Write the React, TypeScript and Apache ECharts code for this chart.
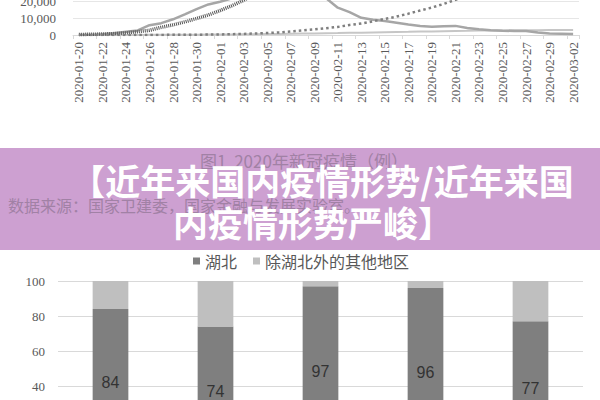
import React, { useEffect, useRef } from "react";
import * as echarts from "echarts";

// ---- top line chart (2020 epidemic, cases) ----
const dates = [
  "2020-01-20", "2020-01-21", "2020-01-22", "2020-01-23", "2020-01-24", "2020-01-25", "2020-01-26",
  "2020-01-27", "2020-01-28", "2020-01-29", "2020-01-30", "2020-01-31", "2020-02-01", "2020-02-02",
  "2020-02-03", "2020-02-04", "2020-02-05", "2020-02-06", "2020-02-07", "2020-02-08", "2020-02-09",
  "2020-02-10", "2020-02-11", "2020-02-12", "2020-02-13", "2020-02-14", "2020-02-15", "2020-02-16",
  "2020-02-17", "2020-02-18", "2020-02-19", "2020-02-20", "2020-02-21", "2020-02-22", "2020-02-23",
  "2020-02-24", "2020-02-25", "2020-02-26", "2020-02-27", "2020-02-28", "2020-02-29", "2020-03-01",
  "2020-03-02",
];

const suspected = [
  0, 0, 393, 1072, 1965, 2684, 5794, 6973, 9239, 12167, 15238, 17988, 19544, 21558, 23214, 23260,
  24702, 26359, 27657, 28942, 23589, 21675, 16067, 13435, 10109, 8969, 8228, 7264, 6242, 5248, 4922,
  5206, 5365, 4148, 3434, 2824, 2491, 2358, 2308, 1418, 851, 715, 587,
];

const confirmed = [
  291, 440, 571, 830, 1287, 1975, 2744, 4515, 5974, 7711, 9692, 11791, 14380, 17205, 20438, 24324,
  28018, 31161, 34546, 37198, 40171, 42638, 44653, 59804, 63851, 66492, 68500, 70548, 72436, 74185,
  74576, 75465, 76288, 76936, 77150, 77658, 78064, 78497, 78824, 79251, 79824, 80026, 80151,
];

const cured = [
  25, 25, 28, 34, 38, 49, 51, 60, 103, 124, 171, 243, 328, 475, 632, 892, 1153, 1540, 2050, 2649,
  3281, 3996, 4740, 5911, 6723, 8096, 9419, 10844, 12552, 14376, 16155, 18264, 20659, 22888, 24734,
  27323, 29745, 32495, 36117, 39002, 41625, 44462, 47204,
];

const deaths = [
  6, 9, 17, 25, 41, 56, 80, 106, 132, 170, 213, 259, 304, 361, 425, 490, 563, 636, 722, 811, 908,
  1016, 1113, 1367, 1380, 1523, 1665, 1770, 1868, 2004, 2118, 2236, 2345, 2442, 2592, 2663, 2715,
  2744, 2788, 2835, 2870, 2912, 2943,
];

// ---- bottom stacked bar chart (share, %) ----
const barCategories = ["累计确诊", "现有确诊", "累计死亡", "现有重症", "现有疑似"];
const hubeiShare = [84, 74, 97, 96, 77];
const otherShare = [16, 26, 3, 4, 23];
const barSeriesNames = ["湖北", "除湖北外的其他地区"];

// ---- texts ----
const chartCaption = "图1  2020年新冠疫情（例）";
const sourceNote = "数据来源：国家卫建委，国家金融与发展实验室。";
const titleLine1 = "【近年来国内疫情形势/近年来国";
const titleLine2 = "内疫情形势严峻】";

const SERIF = '"Liberation Serif", "DejaVu Serif", serif';
const CJK = '"Noto Sans CJK SC", sans-serif';

export default function App() {
  const ref = useRef<HTMLDivElement>(null);

  useEffect(() => {
    if (!ref.current) return;
    const chart = echarts.init(ref.current, null, { renderer: "svg" });

    const option: any = {
      animation: false,
      backgroundColor: "#ffffff",
      legend: {
        data: barSeriesNames,
        left: 188,
        top: 248,
        icon: "rect",
        itemWidth: 7,
        itemHeight: 7,
        itemGap: 16,
        textStyle: { fontFamily: CJK, fontSize: 16, color: "#595959" },
      },
      grid: [
        { left: 73, right: 21, top: -118, height: 153, outerBoundsMode: "none", containLabel: false },
        { left: 58, right: 17, top: 281, height: 175, outerBoundsMode: "none", containLabel: false },
      ],
      xAxis: [
        {
          type: "category",
          gridIndex: 0,
          data: dates,
          boundaryGap: true,
          axisLine: { lineStyle: { color: "#d9d9d9", width: 1 } },
          axisTick: { show: true, interval: 1, length: 4, lineStyle: { color: "#d9d9d9" } },
          axisLabel: {
            interval: 1,
            rotate: 90,
            margin: 7,
            fontFamily: SERIF,
            fontSize: 13,
            color: "#595959",
          },
        },
        {
          type: "category",
          gridIndex: 1,
          data: barCategories,
          axisLine: { lineStyle: { color: "#d9d9d9" } },
          axisTick: { show: false },
          axisLabel: { fontFamily: CJK, fontSize: 13, color: "#595959" },
        },
      ],
      yAxis: [
        {
          type: "value",
          gridIndex: 0,
          min: 0,
          max: 90000,
          interval: 10000,
          axisLine: { show: false },
          axisTick: { show: false },
          splitLine: { lineStyle: { color: "#e6e6e6" } },
          axisLabel: {
            margin: 17,
            fontFamily: SERIF,
            fontSize: 13,
            color: "#595959",
            formatter: (v: number) => (v > 20000 ? "" : v.toLocaleString("en-US")),
          },
        },
        {
          type: "value",
          gridIndex: 1,
          min: 0,
          max: 100,
          interval: 20,
          axisLine: { show: false },
          axisTick: { show: false },
          splitLine: { lineStyle: { color: "#d9d9d9" } },
          axisLabel: { margin: 13, fontFamily: SERIF, fontSize: 13, color: "#595959" },
        },
      ],
      series: [
        {
          name: "累计确诊",
          type: "line",
          xAxisIndex: 0,
          yAxisIndex: 0,
          data: confirmed,
          symbol: "none",
          lineStyle: { color: "#555555", width: 3.5, type: [1, 1] },
          z: 3,
        },
        {
          name: "疑似",
          type: "line",
          xAxisIndex: 0,
          yAxisIndex: 0,
          data: suspected,
          symbol: "none",
          lineStyle: { color: "#a6a6a6", width: 2.5 },
          z: 2,
        },
        {
          name: "累计治愈",
          type: "line",
          xAxisIndex: 0,
          yAxisIndex: 0,
          data: cured,
          symbol: "none",
          lineStyle: { color: "#7f7f7f", width: 2.5, type: [2.5, 3] },
          z: 4,
        },
        {
          name: "累计死亡",
          type: "line",
          xAxisIndex: 0,
          yAxisIndex: 0,
          data: deaths,
          symbol: "none",
          lineStyle: { color: "#c6c6c6", width: 2 },
          z: 1,
        },
        {
          name: barSeriesNames[0],
          type: "bar",
          xAxisIndex: 1,
          yAxisIndex: 1,
          stack: "share",
          barWidth: "34%",
          data: hubeiShare,
          itemStyle: { color: "#7f7f7f" },
          label: {
            show: true,
            position: "inside",
            fontFamily: '"Liberation Sans", Arial, sans-serif',
            fontSize: 16,
            color: "#333333",
          },
        },
        {
          name: barSeriesNames[1],
          type: "bar",
          xAxisIndex: 1,
          yAxisIndex: 1,
          stack: "share",
          barWidth: "34%",
          data: otherShare,
          itemStyle: { color: "#bfbfbf" },
        },
      ],
      graphic: [
        {
          type: "rect",
          shape: { x: 0, y: 148, width: 600, height: 102 },
          style: { fill: "#cda0d1" },
          z: 100,
        },
        {
          type: "text",
          x: 304,
          y: 160,
          z: 101,
          style: {
            text: chartCaption,
            fill: "#a181a5",
            fontFamily: CJK,
            fontSize: 17,
            align: "center",
            verticalAlign: "middle",
          },
        },
        {
          type: "text",
          x: 8,
          y: 205,
          z: 101,
          style: {
            text: sourceNote,
            fill: "#a181a5",
            fontFamily: CJK,
            fontSize: 16,
            align: "left",
            verticalAlign: "middle",
          },
        },
        {
          type: "text",
          x: 322,
          y: 179,
          z: 102,
          style: {
            text: titleLine1,
            fill: "#ffffff",
            fontFamily: CJK,
            fontWeight: "bold",
            fontSize: 35,
            align: "center",
            verticalAlign: "middle",
          },
        },
        {
          type: "text",
          x: 313,
          y: 221,
          z: 102,
          style: {
            text: titleLine2,
            fill: "#ffffff",
            fontFamily: CJK,
            fontWeight: "bold",
            fontSize: 35,
            align: "center",
            verticalAlign: "middle",
          },
        },
      ],
    };

    chart.setOption(option);
    return () => chart.dispose();
  }, []);

  return (
    <div
      ref={ref}
      style={{ position: "fixed", left: 0, top: 0, width: 600, height: 400, background: "#ffffff" }}
    />
  );
}
